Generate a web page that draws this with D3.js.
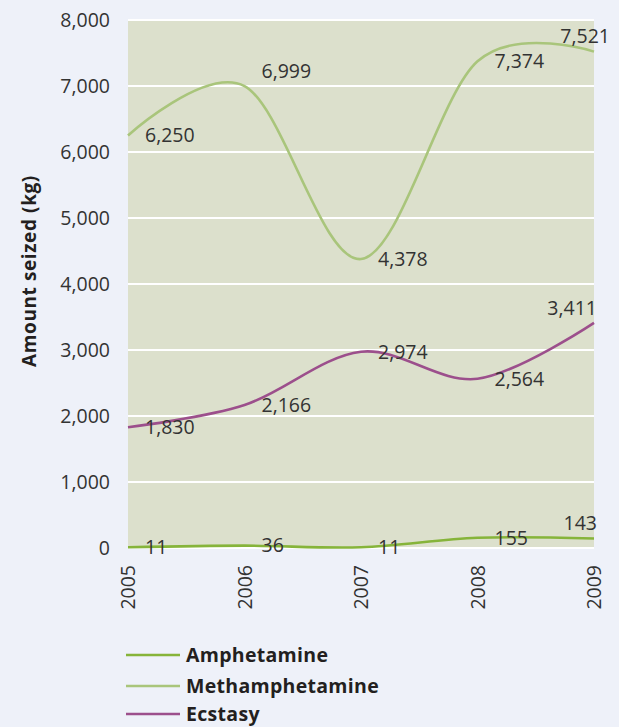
<!DOCTYPE html>
<html><head><meta charset="utf-8">
<script src="https://cdn.jsdelivr.net/npm/d3@7"></script>
<style>
html,body{margin:0;padding:0;background:#eef1f9;}
svg{display:block;font-family:"Open Sans",sans-serif;}
</style></head>
<body>
<svg id="chart" width="619" height="727"></svg>
<script>
const years = [2005, 2006, 2007, 2008, 2009];
const amphetamine = [11, 36, 11, 155, 143];
const methamphetamine = [6250, 6999, 4378, 7374, 7521];
const ecstasy = [1830, 2166, 2974, 2564, 3411];
const seriesNames = ["Amphetamine", "Methamphetamine", "Ecstasy"];
const seriesColors = ["#86b43a", "#a9c57b", "#9c4f8c"];
const yTicks = [0, 1000, 2000, 3000, 4000, 5000, 6000, 7000, 8000];
const yTitle = "Amount seized (kg)";

const seriesValues = [amphetamine, methamphetamine, ecstasy];
const svg = d3.select("#chart");
const m = {left: 128, right: 25, top: 20, bottom: 179};
const W = 619, H = 727;
const x = d3.scaleLinear().domain([2005, 2009]).range([m.left, W - m.right]);
const y = d3.scaleLinear().domain([0, 8000]).range([H - m.bottom, m.top]);
const fmt = d3.format(",");

svg.append("rect").attr("x", x(2005)).attr("y", y(8000))
  .attr("width", x(2009) - x(2005)).attr("height", y(0) - y(8000))
  .attr("fill", "#dce0cc");

// gridlines
svg.append("g").selectAll("line").data(yTicks).join("line")
  .attr("x1", x(2005)).attr("x2", x(2009))
  .attr("y1", d => y(d)).attr("y2", d => y(d))
  .attr("stroke", "#ffffff").attr("stroke-width", 2.2);

// y axis
const yAxis = svg.append("g").attr("transform", `translate(${m.left},0)`)
  .call(d3.axisLeft(y).tickValues(yTicks).tickFormat(fmt).tickSize(0).tickPadding(18));
yAxis.select(".domain").remove();
yAxis.selectAll("text").attr("font-size", 19.5).attr("fill", "#333")
  .attr("font-family", "'Open Sans',sans-serif");

// x axis
const xAxis = svg.append("g").attr("transform", `translate(0,${y(0)})`)
  .call(d3.axisBottom(x).tickValues(years).tickFormat(d3.format("d")).tickSize(0));
xAxis.select(".domain").remove();
xAxis.selectAll("text")
  .attr("transform", "rotate(-90)")
  .attr("text-anchor", "end")
  .attr("x", -17).attr("y", 0).attr("dy", "0.35em")
  .attr("font-size", 19.5).attr("fill", "#333")
  .attr("font-family", "'Open Sans',sans-serif");

// y title
svg.append("text")
  .attr("transform", `translate(36,${271}) rotate(-90)`)
  .attr("text-anchor", "middle")
  .attr("font-size", 19).attr("font-weight", "bold").attr("fill", "#231f20")
  .attr("letter-spacing", 0.6)
  .text(yTitle);

// lines
const line = d3.line().x((d, i) => x(years[i])).y(d => y(d)).curve(d3.curveCardinal.tension(0));
seriesValues.forEach((vals, s) => {
  svg.append("path").datum(vals).attr("d", line)
    .attr("fill", "none").attr("stroke", seriesColors[s]).attr("stroke-width", 2.6);
});

// data labels
const labelsG = svg.append("g").attr("font-size", 19.5).attr("fill", "#333");
seriesValues.forEach((vals, s) => {
  vals.forEach((v, i) => {
    const last = i === vals.length - 1;
    const above = last || (s === 1 && i === 1);
    labelsG.append("text")
      .attr("x", last ? x(years[i]) + 3 : x(years[i]) + 17)
      .attr("y", above ? y(v) - 15 : y(v))
      .attr("dy", "0.35em")
      .attr("text-anchor", last ? "end" : "start")
      .text(fmt(v));
  });
});
labelsG.selectAll("text").filter(function(){ return this.textContent === fmt(methamphetamine[4]); })
  .attr("x", x(2009) + 16);

// legend
const lg = svg.append("g");
seriesNames.forEach((n, i) => {
  const ly = [655, 686, 714][i];
  lg.append("line").attr("x1", 126).attr("x2", 180).attr("y1", ly).attr("y2", ly)
    .attr("stroke", seriesColors[i]).attr("stroke-width", 2.6);
  lg.append("text").attr("x", 186).attr("y", ly).attr("dy", "0.35em")
    .attr("font-size", 19.5).attr("font-weight", "bold").attr("fill", "#231f20")
    .attr("letter-spacing", 0.3)
    .text(n);
});
</script>
</body></html>
